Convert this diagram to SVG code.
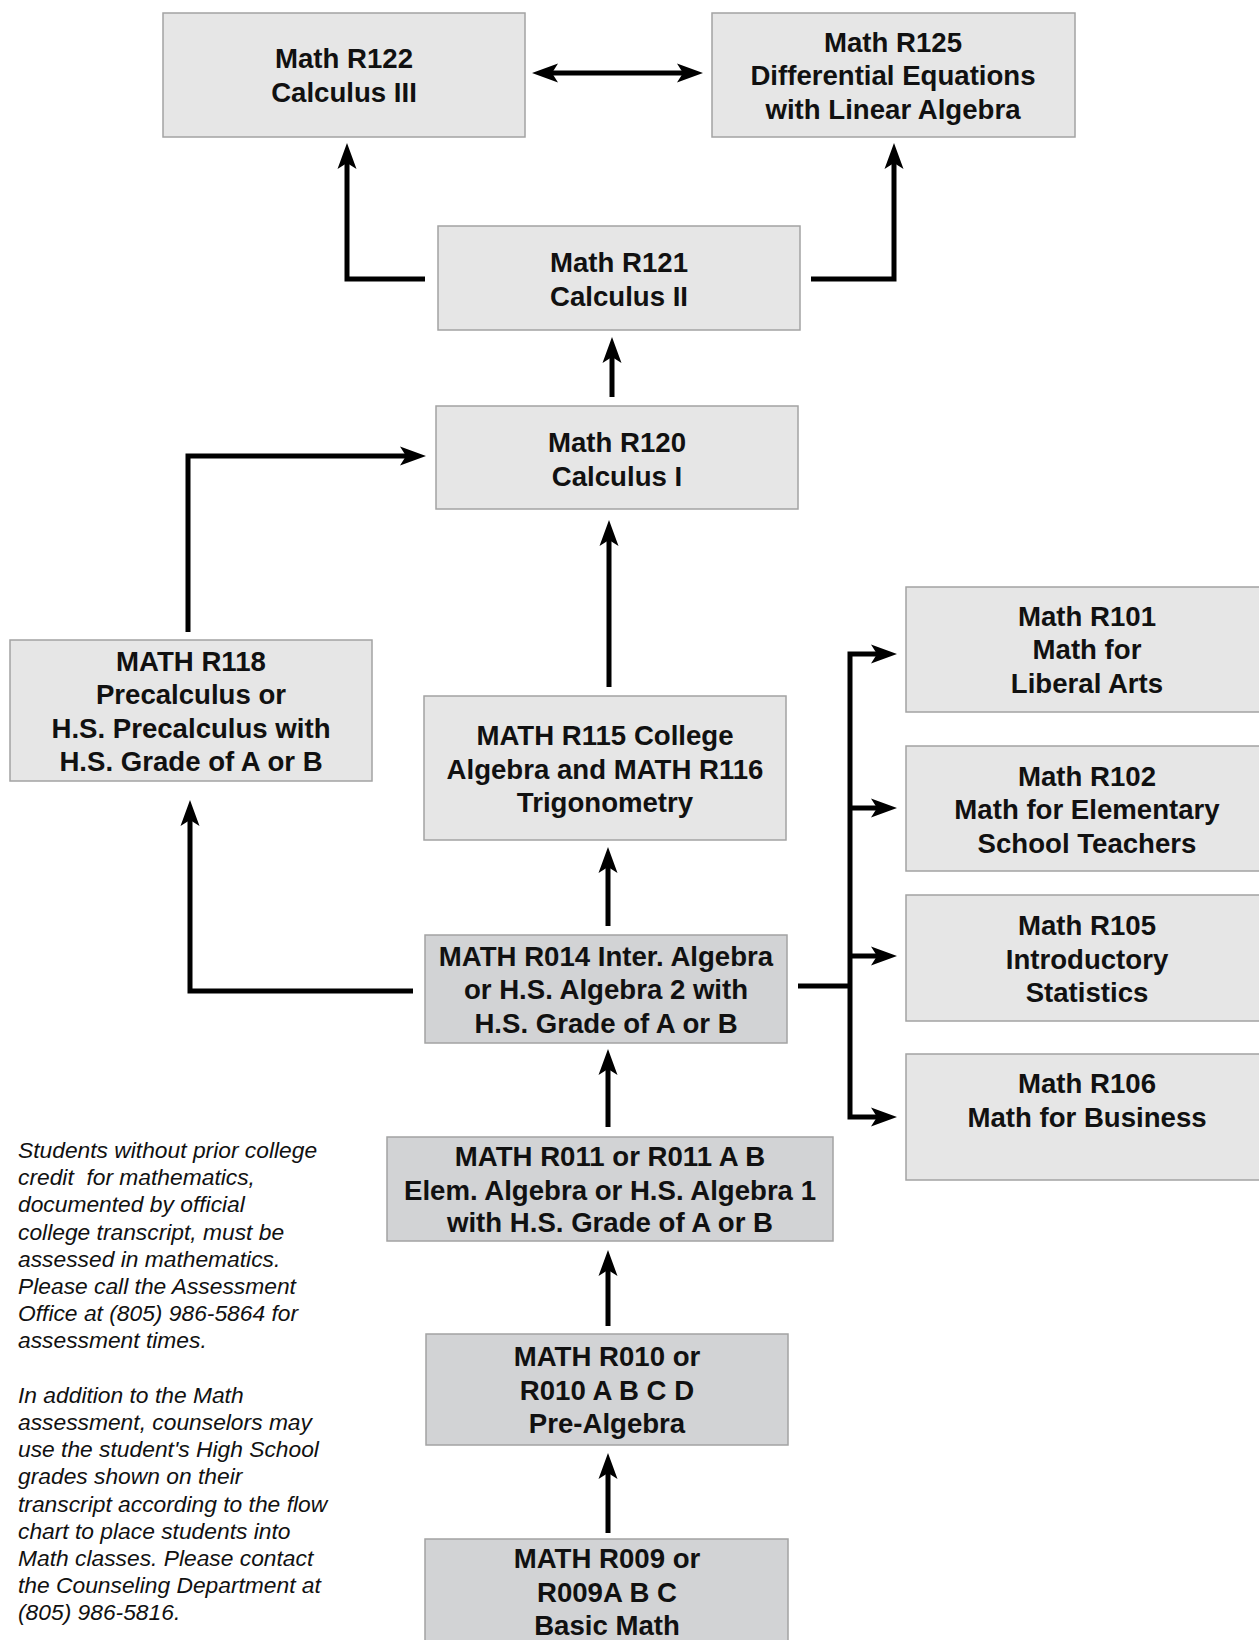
<svg xmlns="http://www.w3.org/2000/svg" width="1259" height="1640" viewBox="0 0 1259 1640">
<style>
.box{fill:#e6e6e6;stroke:#a3a3a3;stroke-width:1.5}
.dark{fill:#d2d3d5}
.t{font-family:"Liberation Sans",Arial,sans-serif;font-weight:bold;font-size:27.6px;fill:#111;text-anchor:middle}
.note{font-family:"Liberation Sans",Arial,sans-serif;font-style:italic;font-size:22.8px;fill:#111}
.c{fill:none;stroke:#000;stroke-width:5;stroke-linejoin:miter;stroke-linecap:butt}
.a{marker-end:url(#ah)}
</style>
<defs>
<marker id="ah" markerUnits="userSpaceOnUse" markerWidth="32" markerHeight="24" viewBox="-28 -12 32 24" refX="-12" refY="0" orient="auto">
<path d="M0,0 L-26,-9.5 L-20,0 L-26,9.5 Z" fill="#000"/>
</marker>
<marker id="ahs" markerUnits="userSpaceOnUse" markerWidth="32" markerHeight="24" viewBox="-28 -12 32 24" refX="-12" refY="0" orient="auto-start-reverse">
<path d="M0,0 L-26,-9.5 L-20,0 L-26,9.5 Z" fill="#000"/>
</marker>
</defs>
<rect width="1259" height="1640" fill="#fff"/>

<g id="connectors">
<path class="c" d="M544,73 H691" marker-start="url(#ahs)" marker-end="url(#ahs)"/>
<path class="c a" d="M425,279 H347 V155"/>
<path class="c a" d="M811,279 H894 V155"/>
<path class="c a" d="M612,397 V349"/>
<path class="c a" d="M188,632 V456 H414"/>
<path class="c a" d="M609,687 V532"/>
<path class="c a" d="M608,926 V859"/>
<path class="c a" d="M413,991 H190 V812"/>
<path class="c" d="M798,986 H850"/>
<path class="c a" d="M850,986 V654 H885"/>
<path class="c a" d="M850,986 V1117 H885"/>
<path class="c a" d="M850,808 H885"/>
<path class="c a" d="M850,956 H885"/>
<path class="c a" d="M608,1127 V1061"/>
<path class="c a" d="M608,1326 V1262"/>
<path class="c a" d="M608,1533 V1465"/>
</g>

<g id="r122">
<rect class="box" x="163" y="13" width="362" height="124"/>
<text class="t" x="344" y="68">Math R122</text>
<text class="t" x="344" y="102">Calculus III</text>
</g>
<g id="r125">
<rect class="box" x="712" y="13" width="363" height="124"/>
<text class="t" x="893" y="52">Math R125</text>
<text class="t" x="893" y="85">Differential Equations</text>
<text class="t" x="893" y="119">with Linear Algebra</text>
</g>
<g id="r121">
<rect class="box" x="438" y="226" width="362" height="104"/>
<text class="t" x="619" y="272">Math R121</text>
<text class="t" x="619" y="306">Calculus II</text>
</g>
<g id="r120">
<rect class="box" x="436" y="406" width="362" height="103"/>
<text class="t" x="617" y="452">Math R120</text>
<text class="t" x="617" y="486">Calculus I</text>
</g>
<g id="r118">
<rect class="box" x="10" y="640" width="362" height="141"/>
<text class="t" x="191" y="671">MATH R118</text>
<text class="t" x="191" y="704">Precalculus or</text>
<text class="t" x="191" y="738">H.S. Precalculus with</text>
<text class="t" x="191" y="771">H.S. Grade of A or B</text>
</g>
<g id="r115">
<rect class="box" x="424" y="696" width="362" height="144"/>
<text class="t" x="605" y="745">MATH R115 College</text>
<text class="t" x="605" y="779">Algebra and MATH R116</text>
<text class="t" x="605" y="812">Trigonometry</text>
</g>
<g id="r014">
<rect class="box dark" x="425" y="935" width="362" height="108"/>
<text class="t" x="606" y="966">MATH R014 Inter. Algebra</text>
<text class="t" x="606" y="999">or H.S. Algebra 2 with</text>
<text class="t" x="606" y="1033">H.S. Grade of A or B</text>
</g>
<g id="r101">
<rect class="box" x="906" y="587" width="364" height="125"/>
<text class="t" x="1087" y="626">Math R101</text>
<text class="t" x="1087" y="659">Math for</text>
<text class="t" x="1087" y="693">Liberal Arts</text>
</g>
<g id="r102">
<rect class="box" x="906" y="746" width="364" height="125"/>
<text class="t" x="1087" y="786">Math R102</text>
<text class="t" x="1087" y="819">Math for Elementary</text>
<text class="t" x="1087" y="853">School Teachers</text>
</g>
<g id="r105">
<rect class="box" x="906" y="895" width="364" height="126"/>
<text class="t" x="1087" y="935">Math R105</text>
<text class="t" x="1087" y="969">Introductory</text>
<text class="t" x="1087" y="1002">Statistics</text>
</g>
<g id="r106">
<rect class="box" x="906" y="1054" width="364" height="126"/>
<text class="t" x="1087" y="1093">Math R106</text>
<text class="t" x="1087" y="1127">Math for Business</text>
</g>
<g id="r011">
<rect class="box dark" x="387" y="1137" width="446" height="104"/>
<text class="t" x="610" y="1166">MATH R011 or R011 A B</text>
<text class="t" x="610" y="1200">Elem. Algebra or H.S. Algebra 1</text>
<text class="t" x="610" y="1232">with H.S. Grade of A or B</text>
</g>
<g id="r010">
<rect class="box dark" x="426" y="1334" width="362" height="111"/>
<text class="t" x="607" y="1366">MATH R010 or</text>
<text class="t" x="607" y="1400">R010 A B C D</text>
<text class="t" x="607" y="1433">Pre-Algebra</text>
</g>
<g id="r009">
<rect class="box dark" x="425" y="1539" width="363" height="112"/>
<text class="t" x="607" y="1568">MATH R009 or</text>
<text class="t" x="607" y="1602">R009A B C</text>
<text class="t" x="607" y="1635">Basic Math</text>
</g>

<g id="note">
<text class="note" x="18" y="1158">Students without prior college</text>
<text class="note" x="18" y="1185.2" xml:space="preserve">credit  for mathematics,</text>
<text class="note" x="18" y="1212.4">documented by official</text>
<text class="note" x="18" y="1239.6">college transcript, must be</text>
<text class="note" x="18" y="1266.8">assessed in mathematics.</text>
<text class="note" x="18" y="1294">Please call the Assessment</text>
<text class="note" x="18" y="1321.2">Office at (805) 986-5864 for</text>
<text class="note" x="18" y="1348.4">assessment times.</text>
<text class="note" x="18" y="1402.8">In addition to the Math</text>
<text class="note" x="18" y="1430">assessment, counselors may</text>
<text class="note" x="18" y="1457.2">use the student's High School</text>
<text class="note" x="18" y="1484.4">grades shown on their</text>
<text class="note" x="18" y="1511.6">transcript according to the flow</text>
<text class="note" x="18" y="1538.8">chart to place students into</text>
<text class="note" x="18" y="1566">Math classes. Please contact</text>
<text class="note" x="18" y="1593.2">the Counseling Department at</text>
<text class="note" x="18" y="1620.4">(805) 986-5816.</text>
</g>
</svg>
